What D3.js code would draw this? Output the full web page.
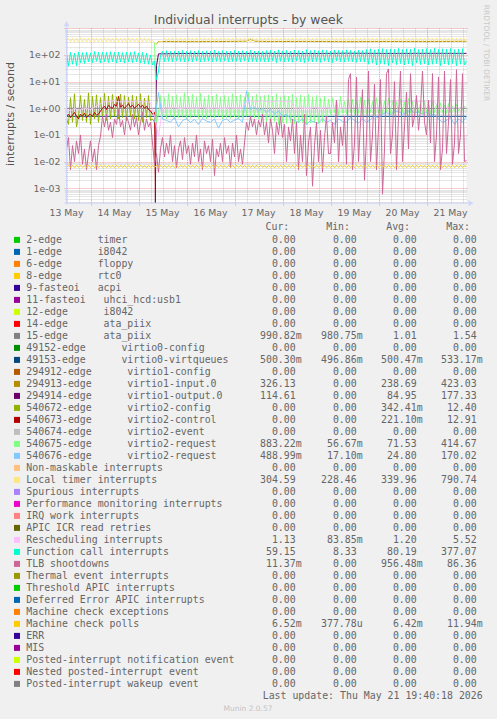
<!DOCTYPE html>
<html><head><meta charset="utf-8">
<script src="https://cdn.jsdelivr.net/npm/d3@7"></script>
<style>
html,body{margin:0;padding:0;background:#F0F0F0;}
svg{display:block;}
text{font-family:"DejaVu Sans",sans-serif;fill:#666;}
.mono{font-family:"DejaVu Sans Mono",monospace;white-space:pre;}
</style></head><body>
<svg id="c" width="497" height="719" xmlns="http://www.w3.org/2000/svg"></svg>
<script>
// ---------------- DATA ----------------
const startTime = Date.UTC(2026,4,13,12,0,0);
const endTime   = Date.UTC(2026,4,21,20,0,0);
const dayLabels = ["13 May","14 May","15 May","16 May","17 May","18 May","19 May","20 May","21 May"];
const yTickValues = [1e2,1e1,1e0,1e-1,1e-2,1e-3];
const yTickLabels = ["1e+02","1e+01","1e+00","1e-01","1e-02","1e-03"];

// hourly values from 13 May 12:00
const functionCallVals = [
110,38,125,45,118,40,130,50,122,48, 128,55,120,52,135,58,126,50,130,55,
124,52,132,56,125,50,128,54,122,50, 130,55,126,52,133,56,120,50,125,48,
118,45,100,42,60,
12,25,95,
138,56,145,58,136,55,142,60,140,57, 148,55,135,58,144,56,139,60,146,55,
137,57,143,59,140,55,150,58,136,56, 145,60,141,55,138,57,147,58,140,55,
144,60,137,56,149,57,139,55,142,58, 136,56,
145,55,150,60,140,52,155,58,142,55, 148,57,138,54,152,60,145,56,140,52,
158,58,146,55,150,57,143,53,155,59, 147,55,141,52,153,60,148,56,144,54,
156,58,149,55,142,53,151,57,146,54,
160,45,170,50,155,42,165,48,172,45, 158,40,168,50,162,44,175,48,160,42,
170,46,165,40,178,50,158,44,168,47, 172,42,160,45,176,48,163,40,170,46,
165,43,174,48,158,40,168,45,172,42, 59];

const tlbVals = [
0.03,0.08,0.005,0.04,0.01,0.06,0.02,0.1,0.008,0.03,0.005,0.02,0.06,0.01,0.03,0.005,0.04,0.09,
0.5,0.2,0.6,0.15,0.3,0.08,0.4,0.25,0.9,0.2,0.35,0.1,0.5,0.3,0.15,0.6,0.2,0.45,0.1,0.3,0.7,0.15,0.4,0.2,0.3,
0.05,0.008,0.02,0.004,0.03,
0.08,0.015,0.05,0.02,0.1,0.01,0.04,0.006,0.03,0.06, 0.012,0.08,0.02,0.04,0.008,0.05,0.015,0.1,0.01,0.03,
0.005,0.06,0.02,0.04,0.01,0.07,0.003,0.03,0.015,0.05, 0.01,0.08,0.02,0.04,0.006,0.05,0.015,0.1,0.01,0.03,
0.008,0.05,
0.3,0.15,0.5,0.2,0.4,0.1,0.35,0.2,0.6,0.1, 0.3,0.05,0.4,0.15,0.02,0.3,0.1,0.5,0.08,0.25, 0.01,0.2,0.06,0.4,
0.02,0.3,0.005,0.1,0.01,0.6,0.003,0.05,0.2,0.0012, 0.04,0.3,0.01,0.15,0.004,0.08,0.5,0.02,
0.02,0.3,0.05,2,0.01,0.2,0.04,0.5,0.008,12,
20,0.005,0.05,15,0.01,0.3,5,0.002,0.08,25,0.01,0.1,8,0.005,0.2,12,0.0006,0.03,20,
30,0.02,0.1,10,0.005,0.5,25,0.01,0.2,4,0.03,
20,0.2,0.5,3,0.15,1,25,0.3,0.1,2,
0.05,20,0.01,0.1,15,0.005,0.03,25,0.02,0.3,12,0.008,0.05,28,0.02,0.1,20,0.01,0.011];

const localTimerVals = [
300,420,310,440,305,430,300,445,310,425, 305,435,300,440,310,430,305,420,300,445,
310,435,305,430,300,440,310,425,305,435, 300,440,310,430,305,420,300,445,310,435,
305,430,300,350,
290,250,300,320,
310,440,305,430,315,445,310,435,305,440, 310,430,305,445,315,435,310,440,305,430,
315,445,310,435,305,440,310,430,305,445, 315,435,310,440,305,430,315,445,310,435,
305,440,310,430,305,445,315,435,310,440, 305,430,315,445,310,435,305,440,310,430,
305,445,315,435,310,440,305,430,315,445, 310,435,305,440,310,430,305,445,315,435,
310,440,305,430,315,445,310,435,305,440, 310,430,305,445,315,435,310,440,305,430,
315,445,310,435,305,440,310,430,305,445, 315,435,310,440,305,430,315,445,310,435,
305,440,310,430,305,445,315,435,310,440, 305,430,315,445,310,435,305,440,310,430,
305,445,315,435,310,440,305,430,315,445, 310,420,305];

const machineCheckVals = [
0.0061,0.0072,0.0062,0.0071,0.0060,0.0073,0.0061,0.0072,0.0062,0.0070,
0.0061,0.0072,0.0062,0.0071,0.0060,0.0073,0.0061,0.0072,0.0062,0.0070,
0.0061,0.0072,0.0062,0.0071,0.0060,0.0073,0.0061,0.0072,0.0062,0.0070,
0.0061,0.0072,0.0062,0.0071,0.0060,0.0073,0.0061,0.0072,0.0062,0.0070,
0.0061,0.0072,0.0062,0.0071,0.0060,0.0073,0.0061,0.0072,0.0062,0.0070,
0.0061,0.0072,0.0062,0.0071,0.0060,0.0073,0.0061,0.0072,0.0062,0.0070,
0.0061,0.0072,0.0062,0.0071,0.0060,0.0073,0.0061,0.0072,0.0062,0.0070,
0.0061,0.0072,0.0062,0.0071,0.0060,0.0073,0.0061,0.0072,0.0062,0.0070,
0.0061,0.0072,0.0062,0.0071,0.0060,0.0073,0.0061,0.0072,0.0062,0.0070,
0.0061,0.0072,0.0062,0.0071,0.0060,0.0073,0.0061,0.0072,0.0062,0.0070,
0.0061,0.0072,0.0062,0.0071,0.0060,0.0073,0.0061,0.0072,0.0062,0.0070,
0.0061,0.0072,0.0062,0.0071,0.0060,0.0073,0.0061,0.0072,0.0062,0.0070,
0.0061,0.0072,0.0062,0.0071,0.0060,0.0073,0.0061,0.0072,0.0062,0.0070,
0.0061,0.0072,0.0062,0.0071,0.0060,0.0073,0.0061,0.0072,0.0062,0.0070,
0.0061,0.0072,0.0062,0.0071,0.0060,0.0073,0.0061,0.0072,0.0062,0.0070,
0.0061,0.0072,0.0062,0.0071,0.0060,0.0073,0.0061,0.0072,0.0062,0.0070,
0.0061,0.0072,0.0062,0.0071,0.0060,0.0073,0.0061,0.0072,0.0062,0.0070,
0.0061,0.0072,0.0062,0.0071,0.0060,0.0073,0.0061,0.0072,0.0062,0.0070,
0.0061,0.0072,0.0062,0.0071,0.0060,0.0073,0.0061,0.0072,0.0062,0.0070,
0.0061,0.0072,0.0062,0.0071,0.0060,0.0073,0.0061,0.0072,0.0062,0.0070,
0.0065];

const virtio2ConfigVals = [ // olive, hourly from h0, then unknown
0.4,0.25,2.5,0.3,3.5,0.2,0.5,3.0,0.35,2.2, 0.3,3.8,0.25,2.8,0.4,3.2,0.3,2.5,0.45,3.6,
0.35,2.9,0.4,3.3,0.5,2.7,0.4,3.4,0.45,3.0, 0.35,2.6,0.5,3.1,0.4,2.8,0.35,3.5,0.3,2.4,
0.45,3.0,0.35,0.4,0.3, null];

const virtio2ControlVals = [ // dark red, hourly from h0
0.5,0.6,0.45,0.55,0.7,0.5,0.4,0.6,0.5,0.65,0.45,0.55,0.6,0.5,0.7,0.55,0.6,0.8,
1.0,1.2,0.9,1.3,1.1,1.0,1.4,1.2,2.8,1.1,1.3,1.0,1.2,1.5,1.1,1.3,1.0,1.2,1.4,1.1,1.3,1.0,1.2,0.9,
0.8,0.6,0.7, 0];

const virtio2ReqAVals = [ // light green, hourly from h44
300,0.3,0.6,
3.0,0.45,2.5,0.4,3.5,0.5,2.8,0.42,3.2,0.45, 2.6,0.5,3.8,0.4,2.9,0.45,3.3,0.5,2.7,0.42,
3.6,0.45,2.5,0.4,3.1,0.48,2.8,0.44,3.4,0.5, 2.6,0.4,3.0,0.45,2.7,0.42,3.5,0.47,2.9,0.4,
3.2,0.45,2.6,0.5,4.0,0.42,2.8,0.45,3.3,0.4, 2.7,0.46,3.0,
0.3,3.2,0.28,2.8,0.32,3.5,0.25,2.6,0.3,3.0, 0.27,2.9,0.3,3.4,0.26,2.5,0.28,3.1,0.3,2.7,
0.25,3.3,0.28,2.6,0.3,3.0,0.26,2.4,0.3,2.9, 0.35,2.2,
0.6,2.5,0.7,2.0,0.55,2.8,0.65,1.8,0.6,2.4, 0.7,2.2,0.6,1.9,0.65,2.6,0.55,2.0,0.6,2.3,
0.7,1.8,0.6,2.5,0.65,2.1,0.6,1.9,0.7,2.4, 0.6,2.0,0.65,1.8,0.6,2.2,0.7,1.7,0.6,2.3,
0.65,1.9,0.6,2.1,0.7,1.6,0.6,2.0,0.65,1.5, 0.6,1.8,0.7,1.4,0.6,1.6,0.7,1.3,0.65,1.5,
0.7,1.2,0.75,1.4,0.8,1.1,0.85,1.2,0.88];

const virtio2ReqBVals = [ // light blue, every 2 h from h44
0.3,4.0,
0.4,0.35,0.3,0.45,0.2,0.35,0.4,0.3,0.38,0.25,0.42,0.33,0.3,0.4,0.18,0.35,0.4,0.3,0.36,0.42,0.3,
4.5,
0.9,1.1,0.8,1.0,0.7,0.9,0.6,0.8,0.5,0.6,0.4,
0.35,0.3,0.4,0.25,0.35,0.3,0.28,0.4,0.3,0.35,0.25,0.4,0.32,0.3,0.45,0.35,0.28,0.4,0.3,0.38,0.5,0.45,
0.6,0.7,0.55,0.8,0.75,0.6,0.7,0.9,0.65,0.75,0.6,0.7,0.55,0.6,
0.4,0.3,0.35,0.45,0.25,0.4,0.3,0.49];

const reschedVals = [ // every 2 h from h0
0.9,0.8,1.0,0.85,0.95,1.0,0.9,1.1,1.3,
1.7,1.9,1.8,2.0,1.7,1.8,1.9,1.75,1.85,1.9,1.7,1.8,1.6,
0.5,0.09,
1.0,1.05,1.0,1.1,0.98,1.0,1.05,1.0,1.02,1.0,1.1,1.0,1.0,1.05,1.0,0.98,1.0,1.05,1.0,1.02,1.0,
1.8,1.9,1.75,1.85,1.9,1.8,1.7,1.85,1.9,1.8,1.75,1.85,
1.0,1.05,1.0,0.98,1.0,1.1,1.0,1.0,1.05,1.0,1.0,0.98,1.05,1.0,1.0,1.1,1.0,1.0,1.02,1.0,1.05,1.0,1.0,1.1,
1.8,1.85,1.9,1.75,1.8,1.9,1.85,1.8,1.75,1.9,1.8,1.7,
1.1,1.0,1.05,1.0,1.1,1.0,1.05,1.13];

// sparse series: hours since start / values
const virtio1OutHours = [0,44,45,46,60,80,100,120,140,160,180,200];
const virtio1OutVals  = [0,0,40,110,114,112,115,113,116,114,115,114.6];
const virtio1InHours  = [45,46,60,80,90,92,94,100,120,140,160,180,200];
const virtio1InVals   = [250,320,315,320,330,390,330,318,322,315,320,318,326];
const ataPiixHours = [0,200];
const ataPiixVals  = [1.0,0.99];
const virtqueuesHours = [0,200];
const virtqueuesVals  = [0.5,0.5];

// legend
const legendNames = [
"2-edge      timer","1-edge      i8042","6-edge      floppy","8-edge      rtc0","9-fasteoi   acpi",
"11-fasteoi   uhci_hcd:usb1","12-edge      i8042","14-edge      ata_piix","15-edge      ata_piix",
"49152-edge      virtio0-config","49153-edge      virtio0-virtqueues",
"294912-edge      virtio1-config","294913-edge      virtio1-input.0","294914-edge      virtio1-output.0",
"540672-edge      virtio2-config","540673-edge      virtio2-control","540674-edge      virtio2-event",
"540675-edge      virtio2-request","540676-edge      virtio2-request",
"Non-maskable interrupts","Local timer interrupts","Spurious interrupts","Performance monitoring interrupts",
"IRQ work interrupts","APIC ICR read retries","Rescheduling interrupts","Function call interrupts",
"TLB shootdowns","Thermal event interrupts","Threshold APIC interrupts","Deferred Error APIC interrupts",
"Machine check exceptions","Machine check polls","ERR","MIS","Posted-interrupt notification event",
"Nested posted-interrupt event","Posted-interrupt wakeup event"];
const legendColors = [
"#00CC00","#0066B3","#FF8000","#FFCC00","#330099","#990099","#CCFF00","#FF0000","#808080",
"#008F00","#00487D","#B35A00","#B38F00","#6B006B","#8FB300","#B30000","#BEBEBE","#80FF80",
"#80C9FF","#FFC080","#FFE680","#AA80FF","#EE00CC","#FF8080","#666600","#FFBFFF","#00FFCC",
"#CC6699","#999900","#00CC00","#0066B3","#FF8000","#FFCC00","#330099","#990099","#CCFF00",
"#FF0000","#808080"];
const Z = "0.00";
const legendCur = [Z,Z,Z,Z,Z,Z,Z,Z,"990.82m",Z,"500.30m",Z,"326.13","114.61",Z,Z,Z,"883.22m","488.99m",Z,"304.59",Z,Z,Z,Z,"1.13","59.15","11.37m",Z,Z,Z,Z,"6.52m",Z,Z,Z,Z,Z];
const legendMin = [Z,Z,Z,Z,Z,Z,Z,Z,"980.75m",Z,"496.86m",Z,Z,Z,Z,Z,Z,"56.67m","17.10m",Z,"228.46",Z,Z,Z,Z,"83.85m","8.33",Z,Z,Z,Z,Z,"377.78u",Z,Z,Z,Z,Z];
const legendAvg = [Z,Z,Z,Z,Z,Z,Z,Z,"1.01",Z,"500.47m",Z,"238.69","84.95","342.41m","221.10m",Z,"71.53","24.80",Z,"339.96",Z,Z,Z,Z,"1.20","80.19","956.48m",Z,Z,Z,Z,"6.42m",Z,Z,Z,Z,Z];
const legendMax = [Z,Z,Z,Z,Z,Z,Z,Z,"1.54",Z,"533.17m",Z,"423.03","177.33","12.40","12.91",Z,"414.67","170.02",Z,"790.74",Z,Z,Z,Z,"5.52","377.07","86.36",Z,Z,Z,Z,"11.94m",Z,Z,Z,Z,Z];
const legendHeaders = ["Cur:","Min:","Avg:","Max:"];

// ---------------- DRAW ----------------
const svg = d3.select("#c");
const X0 = 66.5, X1 = 466.5, YT = 28.3, YB = 202.7;
const x = d3.scaleUtc().domain([new Date(startTime), new Date(endTime)]).range([X0, X1]);
const y = d3.scaleLog().domain([Math.pow(10,-3.54), 1000]).range([YB, YT]);
const H = 3600*1000;

svg.append("rect").attr("width",497).attr("height",719).attr("fill","#F0F0F0");
svg.append("rect").attr("x",X0).attr("y",YT).attr("width",X1-X0).attr("height",YB-YT).attr("fill","#FFFFFF");

// title
svg.append("text").attr("x",248.3).attr("y",24).attr("text-anchor","middle")
  .style("font-size","12.4px").style("fill","#555").text("Individual interrupts - by week");
// y label
svg.append("text").attr("transform","translate(14,114) rotate(-90)").attr("text-anchor","middle")
  .style("font-size","11px").style("fill","#555").text("interrupts / second");
// rrdtool credit
svg.append("text").attr("transform","translate(484,53) rotate(90)").attr("text-anchor","middle")
  .style("font-size","7.5px").style("fill","#c8c8c8").text("RRDTOOL / TOBI OETIKER");

// grid
const grid = svg.append("g");
const minorCol = "rgba(143,143,143,0.45)", majorCol = "rgba(222,79,79,0.55)";
const hourTicks = d3.utcHour.every(6).range(new Date(startTime), new Date(endTime + 1));
hourTicks.forEach(t => {
  const major = t.getUTCHours() === 0;
  const xx = Math.round(x(t)) + 0.5;
  grid.append("line").attr("x1",xx).attr("x2",xx).attr("y1",YT).attr("y2",YB + (major?3:1))
    .attr("stroke", major ? majorCol : minorCol)
    .attr("stroke-dasharray","1,1");
});
for (let k = -4; k <= 2; k++) {
  for (let m = 2; m <= 9; m++) {
    const v = m * Math.pow(10, k);
    if (v < y.domain()[0] || v > 1000) continue;
    const yy = Math.round(y(v)) + 0.5;
    grid.append("line").attr("x1",X0-1).attr("x2",X1+1).attr("y1",yy).attr("y2",yy)
      .attr("stroke",minorCol).attr("stroke-dasharray","1,1");
  }
}
[1e-3,1e-2,1e-1,1,1e1,1e2,1e3].forEach(v => {
  const yy = Math.round(y(v)) + 0.5;
  grid.append("line").attr("x1",X0-2).attr("x2",X1+2).attr("y1",yy).attr("y2",yy)
    .attr("stroke",majorCol).attr("stroke-dasharray","1,1");
});

// y tick labels
yTickValues.forEach((v,i) => {
  svg.append("text").attr("x",60.5).attr("y",y(v)+3.5).attr("text-anchor","end")
    .style("font-size","9.4px").text(yTickLabels[i]);
});
// x tick labels at noon
const noonTicks = d3.utcDay.range(new Date(Date.UTC(2026,4,13)), new Date(Date.UTC(2026,4,22)))
  .map(d => new Date(d.getTime() + 12*H));
noonTicks.forEach((t,i) => {
  svg.append("text").attr("x",x(t)).attr("y",216).attr("text-anchor","middle")
    .style("font-size","9.3px").text(dayLabels[i]);
});

// series
svg.append("defs").append("clipPath").attr("id","plotclip")
  .append("rect").attr("x",X0).attr("y",YT).attr("width",X1-X0+0.5).attr("height",YB-YT);
const plot = svg.append("g").attr("clip-path","url(#plotclip)");
const line = d3.line()
  .defined(d => d.v !== null && d.v !== undefined)
  .x(d => x(d.t))
  .y(d => y(Math.max(d.v, 1e-7)));
function regular(vals, h0, step) {
  return vals.map((v,i) => ({t: new Date(startTime + (h0 + i*step)*H), v: v}));
}
function sparse(hours, vals) {
  return hours.map((h,i) => ({t: new Date(startTime + h*H), v: vals[i]}));
}
const seriesList = [
  {c:"#808080", d: sparse(ataPiixHours, ataPiixVals)},
  {c:"#00487D", d: sparse(virtqueuesHours, virtqueuesVals)},
  {c:"#B38F00", d: sparse(virtio1InHours, virtio1InVals)},
  {c:"#6B006B", d: sparse(virtio1OutHours, virtio1OutVals)},
  {c:"#8FB300", d: regular(virtio2ConfigVals, 0, 1)},
  {c:"#B30000", d: regular(virtio2ControlVals, 0, 1)},
  {c:"#80FF80", d: regular(virtio2ReqAVals, 44, 1)},
  {c:"#80C9FF", d: regular(virtio2ReqBVals, 44, 2)},
  {c:"#FFE680", d: regular(localTimerVals, 0, 1)},
  {c:"#FFBFFF", d: regular(reschedVals, 0, 2)},
  {c:"#00FFCC", d: regular(functionCallVals, 0, 1)},
  {c:"#CC6699", d: regular(tlbVals, 0, 1)},
  {c:"#FFCC00", d: regular(machineCheckVals, 0, 1)}
];
seriesList.forEach(s => {
  plot.append("path").datum(s.d).attr("d", line).attr("fill","none")
    .attr("stroke", s.c).attr("stroke-width",1);
});

// axes with arrows
const axisCol = "#CFD6F8";
svg.append("line").attr("x1",X0-2).attr("x2",X1+3).attr("y1",YB+0.5).attr("y2",YB+0.5).attr("stroke",axisCol);
svg.append("path").attr("d",`M${X1+2},${YB-2.5}L${X1+7},${YB+0.5}L${X1+2},${YB+3.5}Z`).attr("fill",axisCol);
svg.append("line").attr("x1",X0).attr("x2",X0).attr("y1",YB+2).attr("y2",YT-3).attr("stroke",axisCol);
svg.append("path").attr("d",`M${X0-3},${YT-2}L${X0},${YT-7}L${X0+3},${YT-2}Z`).attr("fill",axisCol);

// legend
const L0 = 242.7, LS = 12;
const colRight = [295.7, 356.7, 416.7, 476.7];
const headRight = [289.3, 350, 410, 470];
legendHeaders.forEach((h,i) => {
  svg.append("text").attr("class","mono").attr("x",headRight[i]).attr("y",230.3)
    .attr("text-anchor","end").style("font-size","9.9px").text(h);
});
const cols = [legendCur, legendMin, legendAvg, legendMax];
legendNames.forEach((name,i) => {
  const by = L0 + i*LS;
  svg.append("rect").attr("x",14).attr("y",by-5.8).attr("width",6).attr("height",6).attr("fill",legendColors[i]);
  svg.append("text").attr("class","mono").attr("xml:space","preserve").attr("x",26.3).attr("y",by)
    .style("font-size","9.9px").text(name);
  cols.forEach((arr,ci) => {
    let s = arr[i], suf = "";
    if (/[a-zA-Z]$/.test(s)) { suf = s.slice(-1); s = s.slice(0,-1); }
    svg.append("text").attr("class","mono").attr("x",colRight[ci]).attr("y",by)
      .attr("text-anchor","end").style("font-size","9.9px").text(s);
    if (suf) svg.append("text").attr("class","mono").attr("x",colRight[ci]).attr("y",by)
      .style("font-size","9.9px").text(suf);
  });
});
svg.append("text").attr("class","mono").attr("x",482.7).attr("y",698.5).attr("text-anchor","end")
  .style("font-size","9.9px").text("Last update: Thu May 21 19:40:18 2026");
svg.append("text").attr("x",248).attr("y",711).attr("text-anchor","middle")
  .style("font-size","7.5px").style("fill","#c4c4c4").text("Munin 2.0.57");
</script>
</body></html>
